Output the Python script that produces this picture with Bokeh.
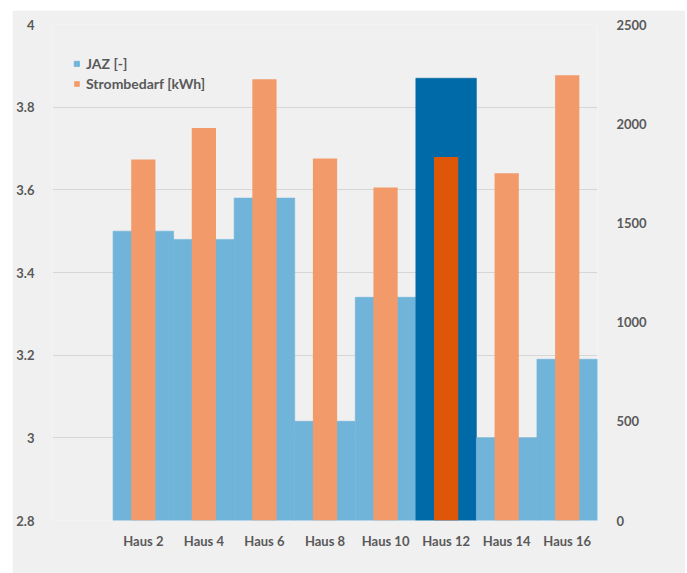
from bokeh.plotting import figure
from bokeh.models import (Range1d, LinearAxis, FixedTicker, NumeralTickFormatter,
                          ColumnDataSource, Legend, LegendItem, Label)
from bokeh.embed import file_html
from bokeh.resources import INLINE

# ---- data ----
cats = ["Haus 2", "Haus 4", "Haus 6", "Haus 8", "Haus 10", "Haus 12", "Haus 14", "Haus 16"]
jaz = [3.50, 3.48, 3.58, 3.04, 3.34, 3.87, 3.00, 3.19]
kwh = [1820, 1978, 2224, 1825, 1678, 1832, 1750, 2244]
highlight = "Haus 12"
left_ticks = [2.8, 3.0, 3.2, 3.4, 3.6, 3.8, 4.0]
right_ticks = [0, 500, 1000, 1500, 2000, 2500]
x_title = "Sommer 2019. Juni bis September"
series_names = ["JAZ [-]", "Strombedarf [kWh]"]

# ---- styles ----
BLUE, BLUE_HI = "#71b4da", "#0069a8"
ORANGE, ORANGE_HI = "#f39a6a", "#de5608"
BG = "#f0f0f0"
TXT = "#595959"
FONT = "Lato"

idx = list(range(len(cats)))
src = ColumnDataSource(dict(
    x=idx, jaz=jaz, kwh=kwh,
    bcol=[BLUE_HI if c == highlight else BLUE for c in cats],
    ocol=[ORANGE_HI if c == highlight else ORANGE for c in cats],
))

p = figure(width=673, height=563, output_backend="svg", toolbar_location=None,
           x_range=Range1d(-1.5, len(cats) - 0.5), y_range=Range1d(2.8, 4.0),
           min_border_left=40, min_border_right=88, min_border_top=14, min_border_bottom=53)
p.margin = (10, 2, 0, 12)
p.background_fill_color = BG
p.border_fill_color = BG
p.outline_line_color = None

p.extra_y_ranges = {"kwh": Range1d(0, 2500)}

rb = p.vbar(x="x", top="jaz", bottom=2.8, width=1.0, source=src,
            fill_color="bcol", line_color="bcol", line_width=0.6)
ro = p.vbar(x="x", top="kwh", bottom=0, width=0.4, source=src, y_range_name="kwh",
            fill_color="ocol", line_color=None)

# axes
for ax in (p.xaxis[0], p.yaxis[0]):
    ax.axis_line_color = None
    ax.major_tick_line_color = None
    ax.minor_tick_line_color = None
    ax.major_label_text_font = FONT
    ax.major_label_text_font_style = "bold"
    ax.major_label_text_font_size = "13px"
    ax.major_label_text_color = TXT

p.xaxis[0].ticker = FixedTicker(ticks=idx)
p.xaxis[0].major_label_overrides = {i: c for i, c in zip(idx, cats)}
p.xaxis[0].major_label_standoff = 6

p.yaxis[0].ticker = FixedTicker(ticks=left_ticks)
p.yaxis[0].formatter = NumeralTickFormatter(format="0.[0]")
p.yaxis[0].major_label_standoff = 12

ra = LinearAxis(y_range_name="kwh", ticker=FixedTicker(ticks=right_ticks))
ra.axis_line_color = None
ra.major_tick_line_color = None
ra.minor_tick_line_color = None
ra.major_label_text_font = FONT
ra.major_label_text_font_style = "bold"
ra.major_label_text_font_size = "13px"
ra.major_label_text_color = TXT
ra.major_label_standoff = 13
p.add_layout(ra, "right")

p.xgrid.visible = False
p.ygrid.ticker = FixedTicker(ticks=left_ticks[1:])
p.ygrid.grid_line_color = "#d6d6d6"
p.ygrid.grid_line_width = 1

legend = Legend(items=[LegendItem(label=series_names[0], renderers=[rb], index=0),
                       LegendItem(label=series_names[1], renderers=[ro], index=0)],
                location=(21, 428), padding=0, margin=0, spacing=3,
                glyph_width=7, glyph_height=7, label_height=17, label_standoff=6,
                label_text_font=FONT, label_text_font_style="bold",
                label_text_font_size="14px", label_text_color=TXT,
                border_line_color=None, background_fill_alpha=0)
p.add_layout(legend)

p.add_layout(Label(x=(len(cats) - 1) / 2, y=-46, x_units="data", y_units="screen",
                   text=x_title, text_align="center", text_baseline="middle",
                   text_font=FONT, text_font_style="bold", text_font_size="13px",
                   text_color=TXT))

open("out.html", "w").write(file_html(p, INLINE))
